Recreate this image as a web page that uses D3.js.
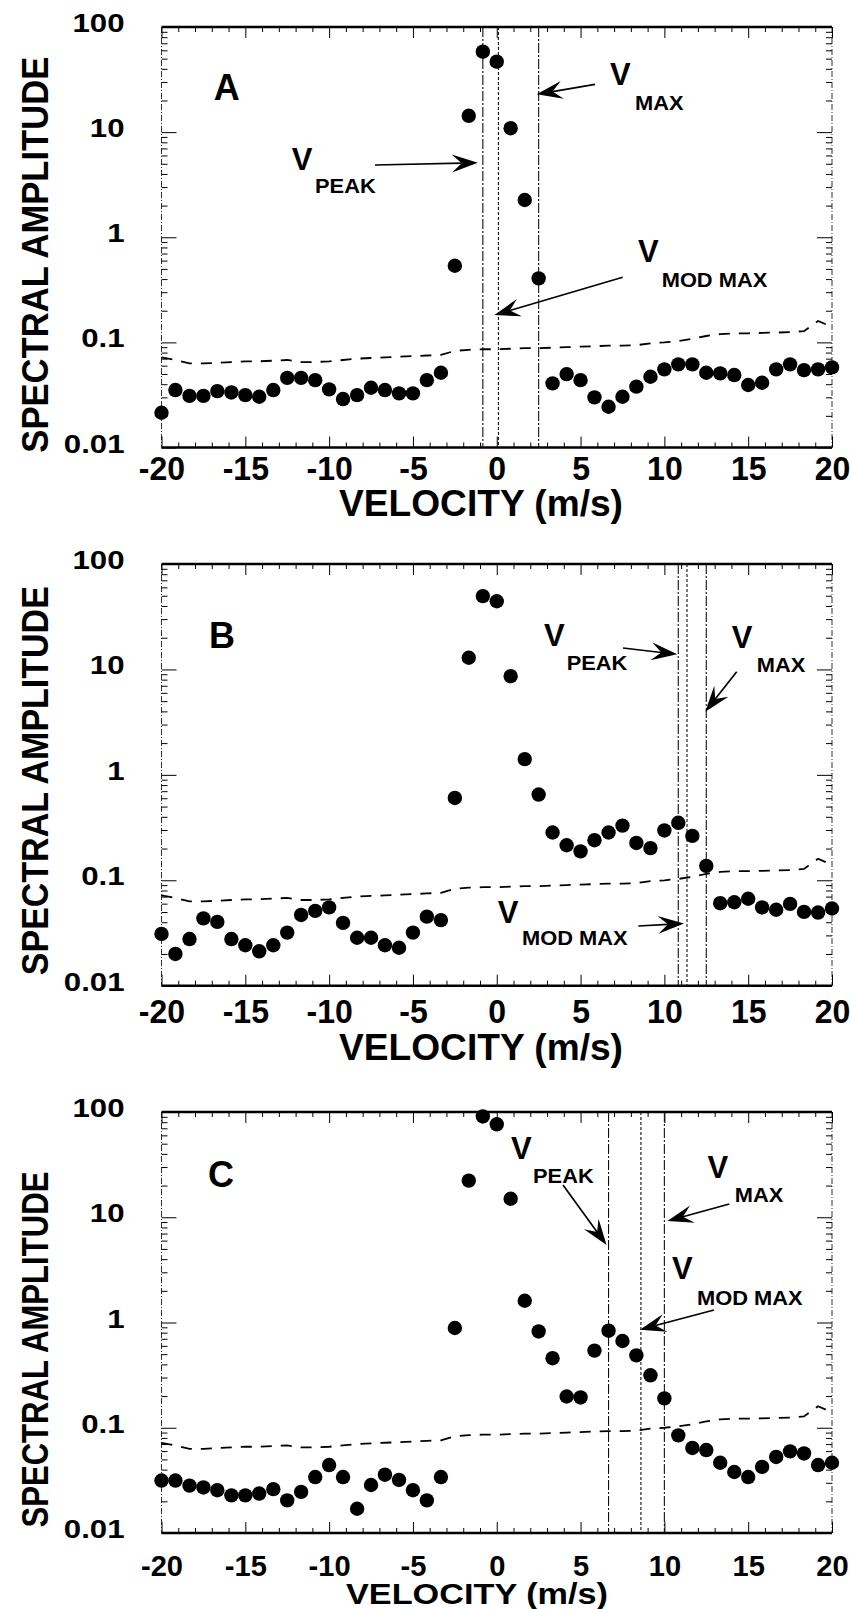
<!DOCTYPE html>
<html>
<head>
<meta charset="utf-8">
<script src="https://cdn.jsdelivr.net/npm/d3@7"></script>
<style>
  html, body { margin: 0; padding: 0; background: #fff; }
  svg { display: block; font-family: "Liberation Sans", Arial, Helvetica, sans-serif; font-weight: bold; }
</style>
</head>
<body>
<svg id="fig" width="851" height="1609"></svg>
<script>
// Doppler velocity bins (m/s)
const velocity = [-20, -19.17, -18.33, -17.5, -16.67, -15.83, -15, -14.17, -13.33, -12.5,
  -11.67, -10.83, -10, -9.17, -8.33, -7.5, -6.67, -5.83, -5, -4.17,
  -3.33, -2.5, -1.67, -0.83, 0, 0.83, 1.67, 2.5, 3.33, 4.17,
  5, 5.83, 6.67, 7.5, 8.33, 9.17, 10, 10.83, 11.67, 12.5,
  13.33, 14.17, 15, 15.83, 16.67, 17.5, 18.33, 19.17, 20];

// Noise threshold (dashed curve), same for every panel
const noiseLevel = [0.072, 0.068, 0.063, 0.063, 0.064, 0.065, 0.066, 0.066, 0.067, 0.068,
  0.065, 0.065, 0.066, 0.068, 0.070, 0.071, 0.072, 0.073, 0.074, 0.075,
  0.076, 0.083, 0.085, 0.086, 0.086, 0.087, 0.088, 0.088, 0.089, 0.090,
  0.091, 0.092, 0.093, 0.093, 0.094, 0.098, 0.100, 0.103, 0.108, 0.115,
  0.120, 0.122, 0.122, 0.123, 0.124, 0.125, 0.128, 0.160, 0.140];

// Spectral amplitudes, panel A
const amplitudeA = [0.0214, 0.0352, 0.0310, 0.0310, 0.0344, 0.0334, 0.0315, 0.0304, 0.0352, 0.046,
  0.046, 0.0437, 0.0357, 0.0289, 0.0315, 0.037, 0.0352, 0.0327, 0.0327, 0.0437,
  0.0514, 0.536, 14.3, 58.2, 46.8, 10.9, 2.26, 0.406, 0.0407, 0.0499,
  0.0437, 0.030, 0.0244, 0.0304, 0.0379, 0.0471, 0.0554, 0.0618, 0.0618, 0.0514,
  0.0507, 0.0489, 0.0393, 0.0413, 0.0554, 0.0618, 0.0545, 0.0554, 0.0578];

// Spectral amplitudes, panel B
const amplitudeB = [0.031, 0.020, 0.0277, 0.0435, 0.0403, 0.0277, 0.0242, 0.0212, 0.0242, 0.0319,
  0.0469, 0.0513, 0.0553, 0.0394, 0.0285, 0.0285, 0.0242, 0.0229, 0.0319, 0.0452,
  0.0419, 0.604, 12.9, 49.6, 44.3, 8.63, 1.41, 0.65, 0.284, 0.215,
  0.188, 0.240, 0.284, 0.330, 0.226, 0.202, 0.297, 0.351, 0.264, 0.137,
  0.0606, 0.0619, 0.0668, 0.0553, 0.0525, 0.0597, 0.0501, 0.0494, 0.054];

// Spectral amplitudes, panel C
const amplitudeC = [0.0315, 0.0315, 0.0282, 0.0271, 0.0255, 0.0228, 0.0228, 0.0237, 0.0261, 0.0204,
  0.0246, 0.034, 0.0442, 0.034, 0.017, 0.0286, 0.0358, 0.032, 0.0255, 0.0204,
  0.034, 0.887, 22.3, 90.7, 76.4, 15.0, 1.61, 0.822, 0.458, 0.198,
  0.194, 0.541, 0.836, 0.667, 0.487, 0.315, 0.19, 0.0847, 0.0643, 0.0614,
  0.0465, 0.038, 0.034, 0.0425, 0.0528, 0.0596, 0.057, 0.0442, 0.0465];

// Characteristic velocities per panel: [V_PEAK, V_MOD MAX, V_MAX]
const markerNames = ["PEAK", "MOD MAX", "MAX"];
const markersA = [-0.83, 0.1, 2.5];
const markersB = [10.83, 11.35, 12.5];
const markersC = [6.67, 8.6, 10.0];

// Amplitude at which each annotation arrow points: [PEAK, MOD MAX, MAX]
const arrowAmpA = [5.1, 0.182, 22.9];
const arrowAmpB = [13.9, 0.039, 3.97];
const arrowAmpC = [5.45, 0.855, 9.2];

const panelLabels = ["A", "B", "C"];
const yTickValues = [0.01, 0.1, 1, 10, 100];
const yTickLabels = ["0.01", "0.1", "1", "10", "100"];
const xTickValues = [-20, -15, -10, -5, 0, 5, 10, 15, 20];
const xTickLabels = ["-20", "-15", "-10", "-5", "0", "5", "10", "15", "20"];
const xMinorValues = [-19, -18, -17, -16, -14, -13, -12, -11, -9, -8, -7, -6, -4, -3, -2, -1,
  1, 2, 3, 4, 6, 7, 8, 9, 11, 12, 13, 14, 16, 17, 18, 19];
const yMinorValues = [0.02, 0.03, 0.04, 0.05, 0.06, 0.07, 0.08, 0.09,
  0.2, 0.3, 0.4, 0.5, 0.6, 0.7, 0.8, 0.9,
  2, 3, 4, 5, 6, 7, 8, 9,
  20, 30, 40, 50, 60, 70, 80, 90];

// ---- layout ----
const X0 = 161.5, X1 = 832;
const panels = [
  { label: panelLabels[0], amp: amplitudeA, markers: markersA, arrowAmp: arrowAmpA,
    top: 27, bottom: 447.5,
    letter: { x: 226.7, y: 73 },
    yTitle: { cy: 254.7, len: 396 },
    xTick: { base: 32, size: 33 },
    xTitle: { cx: 481, base: 68, len: 284, size: 36 },
    ann: [ // order: PEAK, MOD MAX, MAX
      { vx: 291.7, vy: 143, sx: 315, sy: 166.3, tail: [375, 138], dx: -5 },
      { vx: 638, vy: 234.7, sx: 661.7, sy: 259.7, tail: [622.7, 250.3], dx: -4 },
      { vx: 610, vy: 58, sx: 635, sy: 83, tail: [595, 57.3], dx: -2 } ] },
  { label: panelLabels[1], amp: amplitudeB, markers: markersB, arrowAmp: arrowAmpB,
    top: 564, bottom: 985.7,
    letter: { x: 222, y: 84.3 },
    yTitle: { cy: 780.7, len: 389 },
    xTick: { base: 37, size: 33 },
    xTitle: { cx: 481, base: 74, len: 284, size: 36 },
    ann: [
      { vx: 544, vy: 82, sx: 566.7, sy: 106, tail: [623, 84], dx: -1 },
      { vx: 497.7, vy: 359, sx: 522, sy: 381, tail: [638.3, 362], dx: -3 },
      { vx: 731.7, vy: 84.3, sx: 756.7, sy: 107.7, tail: [736.7, 107.7], dx: -1 } ] },
  { label: panelLabels[2], amp: amplitudeC, markers: markersC, arrowAmp: arrowAmpC,
    top: 1112, bottom: 1533,
    letter: { x: 221, y: 74.7 },
    yTitle: { cy: 1349.6, len: 356 },
    xTick: { base: 43, size: 30 },
    xTitle: { cx: 477, base: 71, len: 262, size: 29 },
    ann: [
      { vx: 511, vy: 47, sx: 533, sy: 71, tail: [563, 73], dx: -2 },
      { vx: 672, vy: 167, sx: 697, sy: 193, tail: [714, 198], dx: -1 },
      { vx: 707.5, vy: 66, sx: 734.7, sy: 90, tail: [729.3, 92], dx: 3 } ] }
];

const svg = d3.select("#fig");
const FONT = '"Liberation Sans", Arial, Helvetica, sans-serif';

// widen/narrow a text element horizontally by a factor
function stretch(sel, f) {
  sel.each(function () {
    const w = this.getComputedTextLength();
    d3.select(this).attr("textLength", w * f).attr("lengthAdjust", "spacingAndGlyphs");
  });
}
function fitLength(sel, len) {
  sel.attr("textLength", len).attr("lengthAdjust", "spacingAndGlyphs");
}
function styleAxis(g, size) {
  g.attr("font-family", FONT).attr("font-size", size).attr("font-weight", "bold");
  g.select(".domain").remove();
  g.selectAll(".tick line").attr("stroke", "#000").attr("stroke-width", 1);
  g.selectAll(".tick text").attr("fill", "#000");
}

function arrow(g, x1, y1, x2, y2) {
  const L = 26, W = 9, N = 0.62;
  const a = Math.atan2(y2 - y1, x2 - x1);
  const ux = Math.cos(a), uy = Math.sin(a), px = -uy, py = ux;
  g.append("line")
    .attr("x1", x1).attr("y1", y1)
    .attr("x2", x2 - ux * L * N).attr("y2", y2 - uy * L * N)
    .attr("stroke", "#000").attr("stroke-width", 1.7);
  const pts = [
    [x2, y2],
    [x2 - ux * L + px * W, y2 - uy * L + py * W],
    [x2 - ux * L * N, y2 - uy * L * N],
    [x2 - ux * L - px * W, y2 - uy * L - py * W]
  ];
  g.append("path").attr("d", "M" + pts.map(p => p.join(",")).join("L") + "Z").attr("fill", "#000");
}

panels.forEach(p => {
  const x = d3.scaleLinear().domain([-20, 20]).range([X0, X1]);
  const y = d3.scaleLog().domain([0.01, 100]).range([p.bottom, p.top]);
  const g = svg.append("g");

  // frame
  g.append("line").attr("x1", X0).attr("x2", X1).attr("y1", p.top).attr("y2", p.top)
    .attr("stroke", "#000").attr("stroke-width", 2.4);
  g.append("line").attr("x1", X0).attr("x2", X1).attr("y1", p.bottom).attr("y2", p.bottom)
    .attr("stroke", "#000").attr("stroke-width", 2.4);
  [X0, X1].forEach(xx => g.append("line").attr("x1", xx).attr("x2", xx)
    .attr("y1", p.top).attr("y2", p.bottom)
    .attr("stroke", "#333").attr("stroke-width", 1).attr("stroke-dasharray", "6,2,1,2"));

  // left axis: decade ticks with labels, minor ticks
  const gl = g.append("g").attr("transform", `translate(${X0},0)`)
    .call(d3.axisLeft(y).tickValues(yTickValues).tickFormat((d, i) => yTickLabels[i])
      .tickSize(-15).tickSizeOuter(0).tickPadding(37));
  styleAxis(gl, 26);
  gl.selectAll(".tick text").attr("dy", 4.5);
  stretch(gl.selectAll(".tick text"), 1.2);
  const glm = g.append("g").attr("transform", `translate(${X0},0)`)
    .call(d3.axisLeft(y).tickValues(yMinorValues).tickFormat("").tickSize(-6).tickSizeOuter(0));
  styleAxis(glm, 10);

  // right axis ticks
  const gr = g.append("g").attr("transform", `translate(${X1},0)`)
    .call(d3.axisRight(y).tickValues(yTickValues).tickFormat("").tickSize(-15).tickSizeOuter(0));
  styleAxis(gr, 10);
  const grm = g.append("g").attr("transform", `translate(${X1},0)`)
    .call(d3.axisRight(y).tickValues(yMinorValues).tickFormat("").tickSize(-6).tickSizeOuter(0));
  styleAxis(grm, 10);

  // bottom axis with labels
  const gb = g.append("g").attr("transform", `translate(0,${p.bottom})`)
    .call(d3.axisBottom(x).tickValues(xTickValues).tickFormat((d, i) => xTickLabels[i])
      .tickSize(-11).tickSizeOuter(0));
  styleAxis(gb, p.xTick.size);
  gb.selectAll(".tick text").attr("y", p.xTick.base).attr("dy", 0);
  stretch(gb.selectAll(".tick text"), 0.97);
  const gbm = g.append("g").attr("transform", `translate(0,${p.bottom})`)
    .call(d3.axisBottom(x).tickValues(xMinorValues).tickFormat("").tickSize(-5).tickSizeOuter(0));
  styleAxis(gbm, 10);

  // top axis ticks
  const gt = g.append("g").attr("transform", `translate(0,${p.top})`)
    .call(d3.axisTop(x).tickValues(xTickValues).tickFormat("").tickSize(-11).tickSizeOuter(0));
  styleAxis(gt, 10);
  const gtm = g.append("g").attr("transform", `translate(0,${p.top})`)
    .call(d3.axisTop(x).tickValues(xMinorValues).tickFormat("").tickSize(-5).tickSizeOuter(0));
  styleAxis(gtm, 10);

  // axis titles
  g.append("text")
    .attr("transform", `translate(${34.5 + 13},${p.yTitle.cy}) rotate(-90)`)
    .attr("text-anchor", "middle").attr("font-size", 36).attr("font-family", FONT)
    .text("SPECTRAL AMPLITUDE")
    .call(fitLength, p.yTitle.len);
  g.append("text")
    .attr("x", p.xTitle.cx).attr("y", p.bottom + p.xTitle.base)
    .attr("text-anchor", "middle").attr("font-size", p.xTitle.size).attr("font-family", FONT)
    .text("VELOCITY (m/s)")
    .call(fitLength, p.xTitle.len);

  // characteristic velocity lines
  const dashes = ["10,2,2,2", "3,2", "10,2,2,2"];
  p.markers.forEach((v, i) => {
    g.append("line").attr("x1", x(v)).attr("x2", x(v))
      .attr("y1", p.top).attr("y2", p.bottom)
      .attr("stroke", "#111").attr("stroke-width", 1.1)
      .attr("stroke-dasharray", dashes[i]);
  });

  // noise threshold
  g.append("path")
    .datum(velocity.map((v, i) => [v, noiseLevel[i]]))
    .attr("d", d3.line().x(d => x(d[0])).y(d => y(d[1])))
    .attr("fill", "none").attr("stroke", "#000").attr("stroke-width", 1.8)
    .attr("stroke-dasharray", "11,9");

  // spectral points
  g.append("g").selectAll("circle")
    .data(velocity.map((v, i) => [v, p.amp[i]]))
    .join("circle")
    .attr("cx", d => x(d[0])).attr("cy", d => y(d[1])).attr("r", 7.2)
    .attr("fill", "#000");

  // panel letter
  g.append("text").attr("x", p.letter.x).attr("y", p.top + p.letter.y)
    .attr("text-anchor", "middle").attr("font-size", 36).attr("font-family", FONT)
    .text(p.label);

  // annotations
  p.ann.forEach((a, i) => {
    g.append("text").attr("x", a.vx).attr("y", p.top + a.vy)
      .attr("font-size", 31).attr("font-family", FONT).text("V");
    g.append("text").attr("x", a.sx).attr("y", p.top + a.sy)
      .attr("font-size", 19.5).attr("font-family", FONT).text(markerNames[i])
      .call(stretch, 1.12);
    arrow(g, a.tail[0], p.top + a.tail[1], x(p.markers[i]) + a.dx, y(p.arrowAmp[i]));
  });
});
</script>
</body>
</html>
